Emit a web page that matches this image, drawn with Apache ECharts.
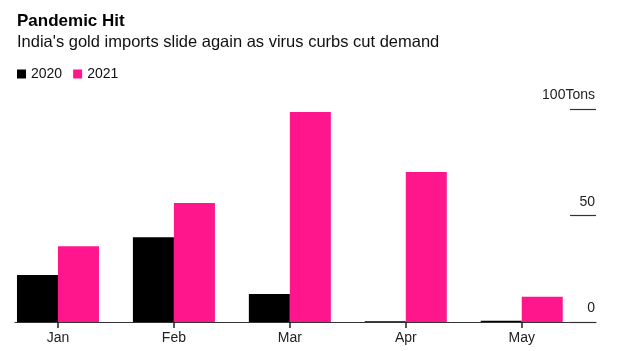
<!DOCTYPE html>
<html>
<head>
<meta charset="utf-8">
<script src="https://cdn.jsdelivr.net/npm/echarts@6/dist/echarts.min.js"></script>
<style>
  html, body { margin: 0; padding: 0; background: #fff; }
  #chart { width: 620px; height: 351px; }
</style>
</head>
<body>
<div id="chart"></div>
<script>
// data (tons)
var months = ['Jan', 'Feb', 'Mar', 'Apr', 'May'];
var imports2020 = [22.1, 39.8, 13.2, 0.4, 0.6];
var imports2021 = [35.6, 56, 98.7, 70.5, 11.9];
var yTicks = [0, 50, 100];

var font = '"Liberation Sans", Arial, Helvetica, sans-serif';
var chart = echarts.init(document.getElementById('chart'));

var option = {
  animation: false,
  title: [{
    text: 'Pandemic Hit',
    left: 12,
    top: 8,
    textStyle: { fontFamily: font, fontSize: 17, fontWeight: 'bold', color: '#000' }
  }, {
    text: "India's gold imports slide again as virus curbs cut demand",
    left: 12,
    top: 29,
    textStyle: { fontFamily: font, fontSize: 16.5, fontWeight: 'normal', color: '#111' }
  }],
  legend: {
    left: 12,
    top: 62,
    icon: 'rect',
    itemWidth: 9,
    itemHeight: 9,
    itemGap: 11,
    textStyle: { fontFamily: font, fontSize: 14, color: '#111' },
    data: ['2020', '2021']
  },
  grid: [
    // bars
    { left: -3.3, width: 583, top: 109.3, height: 212.7 },
    // baseline
    { left: 15, right: 24, top: 109.3, height: 212.7 },
    // short scale lines on the right
    { left: 570, right: 24, top: 109.3, height: 212.7 }
  ],
  xAxis: [{
    type: 'category',
    gridIndex: 0,
    data: months,
    axisLine: { show: true, onZero: false, lineStyle: { color: 'rgba(255,255,255,0)', width: 1 } },
    axisTick: { show: true, alignWithLabel: true, length: 6, lineStyle: { color: '#222', width: 1.5 } },
    axisLabel: { margin: 9, fontFamily: font, fontSize: 14, color: '#222' }
  }, {
    type: 'value',
    gridIndex: 1,
    min: 0,
    max: 1,
    axisLine: { show: true, onZero: false, lineStyle: { color: '#333', width: 1.2 } },
    axisTick: { show: false },
    axisLabel: { show: false },
    splitLine: { show: false }
  }, {
    type: 'value',
    gridIndex: 2,
    min: 0,
    max: 1,
    show: false
  }],
  yAxis: [{
    type: 'value',
    gridIndex: 0,
    min: 0,
    max: 100,
    interval: 50,
    show: false
  }, {
    type: 'value',
    gridIndex: 1,
    min: 0,
    max: 100,
    show: false
  }, {
    type: 'value',
    gridIndex: 2,
    position: 'right',
    min: 0,
    max: 100,
    interval: 50,
    axisLine: { show: false, onZero: false },
    axisTick: { show: false },
    splitLine: { show: true, lineStyle: { color: '#333', width: 1.2 } },
    axisLabel: {
      inside: true,
      margin: 1,
      verticalAlign: 'bottom',
      lineHeight: 14,
      padding: [0, 0, 7, 0],
      fontFamily: font,
      fontSize: 14,
      color: '#222',
      formatter: function (v) {
        if (yTicks.indexOf(v) < 0) return '';
        return v === 100 ? '100Tons' : String(v);
      }
    }
  }],
  series: [{
    name: '2020',
    type: 'bar',
    xAxisIndex: 0,
    yAxisIndex: 0,
    barWidth: 41,
    barGap: '0%',
    itemStyle: { color: '#000' },
    data: imports2020
  }, {
    name: '2021',
    type: 'bar',
    xAxisIndex: 0,
    yAxisIndex: 0,
    barWidth: 41,
    barGap: '0%',
    itemStyle: { color: '#ff168d' },
    data: imports2021
  }]
};

chart.setOption(option);
</script>
</body>
</html>
